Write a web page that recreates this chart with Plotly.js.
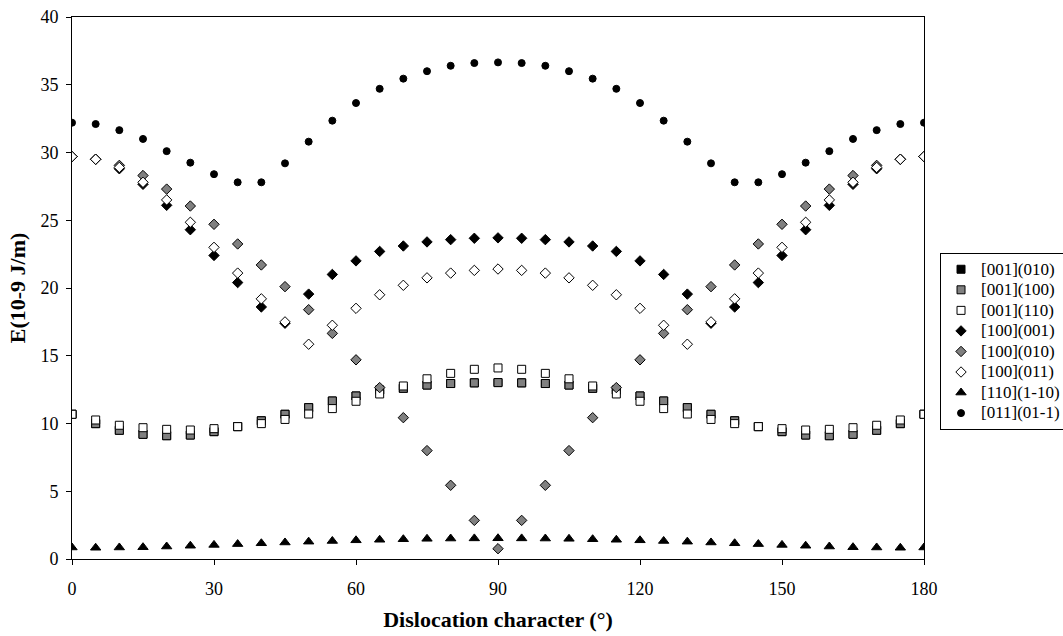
<!DOCTYPE html>
<html>
<head>
<meta charset="utf-8">
<script src="https://cdn.plot.ly/plotly-3.0.1.min.js"></script>
<style>html,body{margin:0;padding:0;background:#fff;}#chart{width:1063px;height:636px;}</style>
</head>
<body>
<div id="chart"></div>
<script>
const angles = [0,5,10,15,20,25,30,35,40,45,50,55,60,65,70,75,80,85,90,95,100,105,110,115,120,125,130,135,140,145,150,155,160,165,170,175,180];

const s001_010 = [10.68,9.99,9.5,9.2,9.1,9.15,9.4,9.77,10.2,10.68,11.17,11.66,12.03,12.47,12.6,12.84,12.95,13.0,13.02,13.0,12.95,12.84,12.6,12.47,12.03,11.66,11.17,10.68,10.2,9.77,9.4,9.15,9.1,9.2,9.5,9.99,10.68];
const s001_100 = [10.68,9.99,9.5,9.2,9.1,9.15,9.4,9.77,10.2,10.68,11.17,11.66,12.03,12.47,12.6,12.84,12.95,13.0,13.02,13.0,12.95,12.84,12.6,12.47,12.03,11.66,11.17,10.68,10.2,9.77,9.4,9.15,9.1,9.2,9.5,9.99,10.68];
const s001_110 = [10.68,10.26,9.87,9.69,9.57,9.52,9.62,9.77,9.99,10.3,10.7,11.1,11.64,12.18,12.77,13.3,13.7,14.0,14.1,14.0,13.7,13.3,12.77,12.18,11.64,11.1,10.7,10.3,9.99,9.77,9.62,9.52,9.57,9.69,9.87,10.26,10.68];
const s100_001 = [29.7,29.5,28.8,27.65,26.1,24.3,22.4,20.4,18.6,17.4,19.55,21.0,22.0,22.7,23.1,23.4,23.57,23.67,23.7,23.67,23.57,23.4,23.1,22.7,22.0,21.0,19.55,17.4,18.6,20.4,22.4,24.3,26.1,27.65,28.8,29.5,29.7];
const s100_010 = [29.7,29.5,29.05,28.3,27.3,26.05,24.7,23.25,21.7,20.1,18.4,16.65,14.7,12.65,10.43,8.0,5.44,2.85,0.76,2.85,5.44,8.0,10.43,12.65,14.7,16.65,18.4,20.1,21.7,23.25,24.7,26.05,27.3,28.3,29.05,29.5,29.7];
const s100_011 = [29.7,29.5,28.9,27.8,26.5,24.85,23.0,21.1,19.2,17.5,15.85,17.25,18.5,19.5,20.2,20.75,21.1,21.3,21.4,21.3,21.1,20.75,20.2,19.5,18.5,17.25,15.85,17.5,19.2,21.1,23.0,24.85,26.5,27.8,28.9,29.5,29.7];
const s110_1m10 = [0.85,0.83,0.85,0.87,0.92,0.98,1.04,1.1,1.16,1.22,1.28,1.33,1.38,1.42,1.46,1.49,1.51,1.52,1.53,1.52,1.51,1.49,1.46,1.42,1.38,1.33,1.28,1.22,1.16,1.1,1.04,0.98,0.92,0.87,0.85,0.83,0.85];
const s011_01m1 = [32.2,32.1,31.65,31.0,30.1,29.25,28.4,27.8,27.8,29.2,30.8,32.35,33.65,34.7,35.45,36.0,36.4,36.6,36.65,36.6,36.4,36.0,35.45,34.7,33.65,32.35,30.8,29.2,27.8,27.8,28.4,29.25,30.1,31.0,31.65,32.1,32.2];

const names = ['[001](010)','[001](100)','[001](110)','[100](001)','[100](010)','[100](011)','[110](1-10)','[011](01-1)'];
const xTicks = [0,30,60,90,120,150,180];
const yTicks = [0,5,10,15,20,25,30,35,40];

function tr(name, y, symbol, fill, size) {
  return {
    x: angles, y: y, name: '<span style="font-size:17px">' + name + '</span>',
    type: 'scatter', mode: 'markers',
    marker: {symbol: symbol, size: size, color: fill, line: {color: '#000', width: 1}}
  };
}

const data = [
  tr(names[0], s001_010, 'square', '#000000', 8),
  tr(names[1], s001_100, 'square', '#808080', 8),
  tr(names[2], s001_110, 'square', '#ffffff', 8),
  tr(names[3], s100_001, 'diamond', '#000000', 8),
  tr(names[4], s100_010, 'diamond', '#808080', 8),
  tr(names[5], s100_011, 'diamond', '#ffffff', 8),
  tr(names[6], s110_1m10, 'triangle-up', '#000000', 9),
  tr(names[7], s011_01m1, 'circle', '#000000', 7)
];

const fontFam = 'Liberation Serif, Times New Roman, serif';

const layout = {
  width: 1063, height: 636,
  margin: {l: 72, r: 139, t: 17, b: 77, autoexpand: false},
  paper_bgcolor: '#fff', plot_bgcolor: '#fff',
  font: {family: fontFam, size: 18, color: '#000'},
  showlegend: true,
  legend: {
    x: 1.0188, y: 0.5646, xanchor: 'left', yanchor: 'top',
    bordercolor: '#000', borderwidth: 1, bgcolor: '#fff',
    font: {family: fontFam, size: 13.5, color: '#000'},
    tracegroupgap: 0, itemwidth: 30
  },
  xaxis: {
    range: [0, 180], tickvals: xTicks, ticktext: xTicks.map(String),
    showgrid: false, zeroline: false, showline: true, linecolor: '#000', linewidth: 1,
    mirror: true, ticks: 'outside', ticklen: 5, tickcolor: '#000',
    tickfont: {family: fontFam, size: 18}, ticklabelstandoff: 8,
    title: {text: '<b>Dislocation character (°)</b>', font: {family: fontFam, size: 22}, standoff: 14}
  },
  yaxis: {
    range: [0, 40], tickvals: yTicks, ticktext: yTicks.map(String),
    showgrid: false, zeroline: false, showline: true, linecolor: '#000', linewidth: 1,
    mirror: true, ticks: 'outside', ticklen: 5, tickcolor: '#000',
    tickfont: {family: fontFam, size: 18}, ticklabelstandoff: 4,
    title: {text: '<b>E(10-9 J/m)</b>', font: {family: fontFam, size: 22}, standoff: 8}
  }
};

Plotly.newPlot('chart', data, layout, {displayModeBar: false, staticPlot: true});
</script>
</body>
</html>
